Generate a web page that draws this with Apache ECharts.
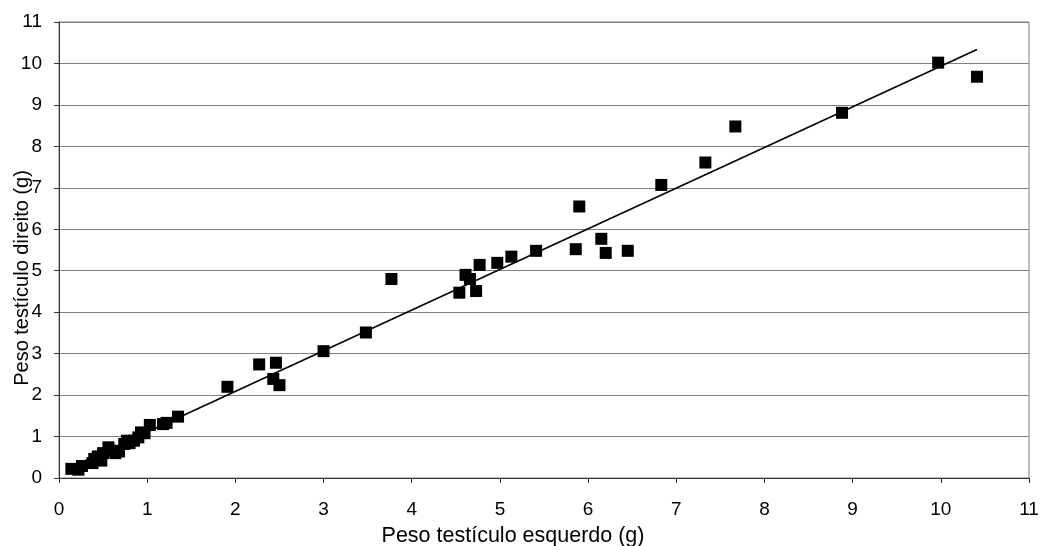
<!DOCTYPE html>
<html>
<head>
<meta charset="utf-8">
<script src="https://cdn.jsdelivr.net/npm/echarts@6/dist/echarts.min.js"></script>
<style>
  html, body { margin: 0; padding: 0; background: #fff; }
  #chart { width: 1040px; height: 546px; }
</style>
</head>
<body>
<div id="chart"></div>
<script>
// Left testicle weight (g), x values
const leftWeight = [
  0.14, 0.22, 0.26, 0.38, 0.40, 0.44, 0.48, 0.50, 0.56, 0.58, 0.64, 0.68,
  0.74, 0.77, 0.80, 0.85, 0.90, 0.93, 0.97, 1.03, 1.18, 1.22, 1.35,
  1.91, 2.27, 2.43, 2.46, 2.50, 3.00, 3.48, 3.77,
  4.54, 4.61, 4.66, 4.73, 4.77, 4.97, 5.13, 5.41,
  5.86, 5.90, 6.15, 6.20, 6.45, 6.83, 7.33, 7.67, 8.88, 9.97, 10.41
];
// Right testicle weight (g), y values
const rightWeight = [
  0.22, 0.20, 0.29, 0.36, 0.46, 0.52, 0.42, 0.60, 0.74, 0.66, 0.60, 0.64,
  0.82, 0.90, 0.84, 0.90, 0.98, 1.10, 1.08, 1.28, 1.30, 1.33, 1.48,
  2.20, 2.74, 2.39, 2.78, 2.24, 3.06, 3.51, 4.80,
  4.47, 4.90, 4.80, 4.51, 5.14, 5.19, 5.34, 5.48,
  5.52, 6.55, 5.77, 5.43, 5.48, 7.07, 7.61, 8.48, 8.81, 10.02, 9.68
];
const xTicks = [0, 1, 2, 3, 4, 5, 6, 7, 8, 9, 10, 11];
const yTicks = [0, 1, 2, 3, 4, 5, 6, 7, 8, 9, 10, 11];
const xTitle = 'Peso testículo esquerdo (g)';
const yTitle = 'Peso testículo direito (g)';

// Least-squares linear trend line across the observed x range
function linearFit(xs, ys) {
  const n = xs.length;
  let sx = 0, sy = 0, sxx = 0, sxy = 0;
  for (let i = 0; i < n; i++) {
    sx += xs[i]; sy += ys[i]; sxx += xs[i] * xs[i]; sxy += xs[i] * ys[i];
  }
  const slope = (n * sxy - sx * sy) / (n * sxx - sx * sx);
  const intercept = (sy - slope * sx) / n;
  return { slope, intercept };
}
const fit = linearFit(leftWeight, rightWeight);
const xMin = Math.min(...leftWeight);
const xMax = Math.max(...leftWeight);
const trend = [xMin, xMax].map(x => [x, fit.intercept + fit.slope * x]);

const points = leftWeight.map((x, i) => [x, rightWeight[i]]);

const font = 'Liberation Sans, Arial, sans-serif';
const chart = echarts.init(document.getElementById('chart'), null, { renderer: 'canvas' });
chart.setOption({
  animation: false,
  backgroundColor: '#ffffff',
  grid: {
    left: 59, right: 11, top: 22, bottom: 68,
    outerBoundsMode: 'none',
    containLabel: false,
    show: true, borderColor: '#808080', borderWidth: 1, backgroundColor: 'transparent'
  },
  xAxis: {
    type: 'value',
    min: xTicks[0], max: xTicks[xTicks.length - 1], interval: 1,
    name: xTitle, nameLocation: 'middle', nameGap: 47, nameMoveOverlap: false,
    nameTextStyle: { color: '#000', fontFamily: font, fontSize: 21.5, padding: [0, 62, 0, 0] },
    axisLine: { show: true, lineStyle: { color: '#333', width: 1 } },
    axisTick: { show: true, inside: false, length: 5, lineStyle: { color: '#333' } },
    axisLabel: { color: '#000', fontFamily: font, fontSize: 19, margin: 22 },
    splitLine: { show: false }
  },
  yAxis: {
    type: 'value',
    min: yTicks[0], max: yTicks[yTicks.length - 1], interval: 1,
    name: yTitle, nameLocation: 'middle', nameGap: 27, nameRotate: 90, nameMoveOverlap: false,
    nameTextStyle: { color: '#000', fontFamily: font, fontSize: 20, padding: [0, 56, 0, 0] },
    axisLine: { show: true, lineStyle: { color: '#333', width: 1 } },
    axisTick: { show: true, inside: false, length: 5, lineStyle: { color: '#333' } },
    axisLabel: { color: '#000', fontFamily: font, fontSize: 19, margin: 17 },
    splitLine: { show: true, lineStyle: { color: '#808080', width: 1 } }
  },
  series: [
    {
      type: 'scatter',
      data: points,
      symbol: 'rect',
      symbolSize: 12,
      itemStyle: { color: '#000', opacity: 1 },
      z: 2
    },
    {
      type: 'line',
      data: trend,
      showSymbol: false,
      symbol: 'none',
      lineStyle: { color: '#000', width: 1.6 },
      z: 3
    }
  ]
});
</script>
</body>
</html>
